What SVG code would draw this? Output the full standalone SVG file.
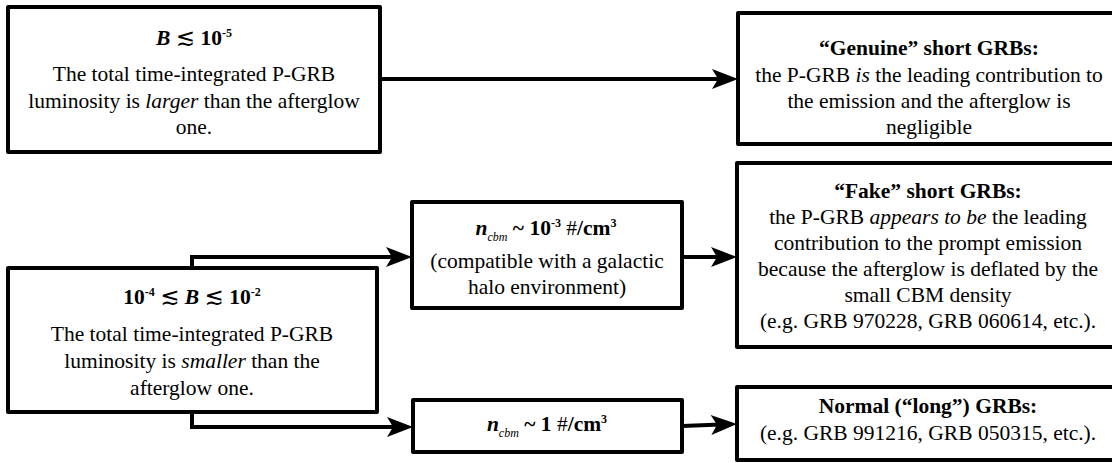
<svg xmlns="http://www.w3.org/2000/svg" width="1112" height="463" viewBox="0 0 1112 463">
<style>
.box{fill:#fff;stroke:#000;stroke-width:4;stroke-linejoin:round}
.conn{fill:none;stroke:#000;stroke-width:4}
text{font-family:"Liberation Serif","Times New Roman",serif;font-size:21.5px;fill:#000;text-anchor:middle}
.b{font-weight:bold}
.i{font-style:italic}
.sym{font-family:"DejaVu Serif","DejaVu Sans",serif;font-weight:normal;font-size:23px}
.sup{font-size:12px}
.sub{font-size:12px;font-style:italic;font-weight:normal}
</style>
<defs>
<marker id="arr" markerUnits="userSpaceOnUse" markerWidth="26" markerHeight="20" refX="10" refY="10" orient="auto" overflow="visible">
<path d="M0,0 L26,10 L0,20 L6,10 Z" fill="#000"/>
</marker>
</defs>
<g id="connectors">
<path class="conn" d="M380,79 H722" marker-end="url(#arr)"/>
<path class="conn" d="M192,268 V257 H396" marker-end="url(#arr)"/>
<path class="conn" d="M192,412 V427 H397" marker-end="url(#arr)"/>
<path class="conn" d="M682,257 H721" marker-end="url(#arr)"/>
<path class="conn" d="M682,426 L721,424.5" marker-end="url(#arr)"/>
</g>
<g id="box-b-small">
<rect class="box" x="8" y="7" width="372" height="145"/>
<text x="194" y="45" class="b"><tspan class="i">B</tspan> <tspan class="sym">≲</tspan> 10<tspan class="sup" dy="-8">-5</tspan></text>
<text x="194" y="81">The total time-integrated P-GRB</text>
<text x="194" y="108">luminosity is <tspan class="i">larger</tspan> than the afterglow</text>
<text x="194" y="134">one.</text>
</g>
<g id="box-genuine">
<rect class="box" x="738" y="13" width="390" height="131"/>
<text x="929" y="55" class="b">“Genuine” short GRBs:</text>
<text x="929" y="82">the P-GRB <tspan class="i">is</tspan> the leading contribution to</text>
<text x="929" y="108">the emission and the afterglow is</text>
<text x="929" y="134">negligible</text>
</g>
<g id="box-b-range">
<rect class="box" x="8" y="268" width="369" height="144"/>
<text x="192" y="304" class="b">10<tspan class="sup" dy="-8">-4</tspan><tspan dy="8"> </tspan><tspan class="sym">≲</tspan> <tspan class="i">B</tspan> <tspan class="sym">≲</tspan> 10<tspan class="sup" dy="-8">-2</tspan></text>
<text x="192" y="341">The total time-integrated P-GRB</text>
<text x="192" y="368">luminosity is <tspan class="i">smaller</tspan> than the</text>
<text x="192" y="395">afterglow one.</text>
</g>
<g id="box-ncbm-low">
<rect class="box" x="412" y="202" width="270" height="106"/>
<text x="546" y="235" class="b"><tspan class="i">n</tspan><tspan class="sub" dy="6">cbm</tspan><tspan dy="-6"> ~ 10</tspan><tspan class="sup" dy="-8">-3</tspan><tspan dy="8" font-weight="normal"> #</tspan>/cm<tspan class="sup" dy="-8">3</tspan></text>
<text x="547" y="268">(compatible with a galactic</text>
<text x="547" y="294">halo environment)</text>
</g>
<g id="box-ncbm-one">
<rect class="box" x="413" y="400" width="269" height="52"/>
<text x="547" y="431" class="b"><tspan class="i">n</tspan><tspan class="sub" dy="6">cbm</tspan><tspan dy="-6"> ~ 1 </tspan><tspan font-weight="normal">#</tspan>/cm<tspan class="sup" dy="-8">3</tspan></text>
</g>
<g id="box-fake">
<rect class="box" x="737" y="163" width="390" height="184"/>
<text x="928" y="198" class="b">“Fake” short GRBs:</text>
<text x="928" y="224">the P-GRB <tspan class="i">appears to be</tspan> the leading</text>
<text x="928" y="250">contribution to the prompt emission</text>
<text x="928" y="276">because the afterglow is deflated by the</text>
<text x="928" y="302">small CBM density</text>
<text x="928" y="328">(e.g. GRB 970228, GRB 060614, etc.).</text>
</g>
<g id="box-normal">
<rect class="box" x="737" y="387" width="390" height="73"/>
<text x="928" y="413" class="b">Normal (“long”) GRBs:</text>
<text x="928" y="440">(e.g. GRB 991216, GRB 050315, etc.).</text>
</g>
</svg>
